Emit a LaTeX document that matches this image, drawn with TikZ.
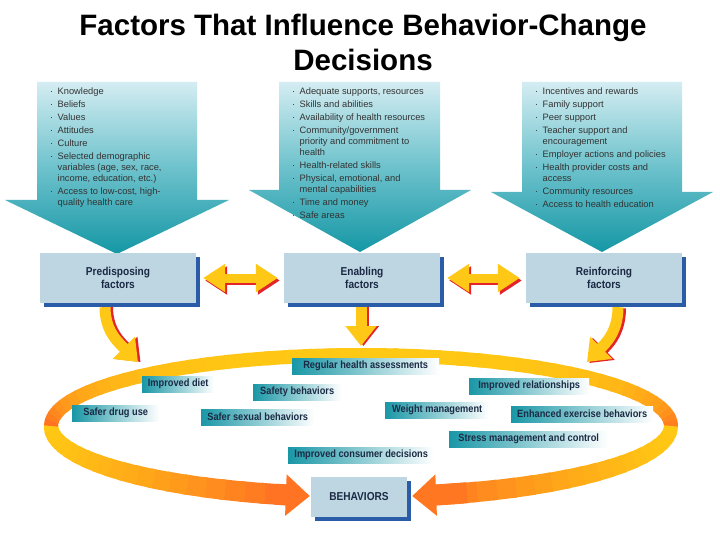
\documentclass[tikz,border=0pt]{standalone}
\usepackage{fontspec}
\setmainfont{Liberation Sans}
\newfontfamily\narrowfont[FakeStretch=0.88]{Liberation Sans}
\usetikzlibrary{arrows.meta,positioning,shadows}

\definecolor{teallight}{HTML}{D4EDF2}
\definecolor{tealmid}{HTML}{6DC2CC}
\definecolor{tealdark}{HTML}{1597A5}
\definecolor{boxfill}{HTML}{BED5E2}
\definecolor{boxshadow}{HTML}{2B5CA8}
\definecolor{navytext}{HTML}{1B2A44}
\definecolor{arrowyellow}{HTML}{FFC816}
\definecolor{arrowred}{HTML}{E3242B}
\definecolor{ringyellow}{HTML}{FFC814}
\definecolor{ringorange}{HTML}{FF6424}
\definecolor{tagteal}{HTML}{1A97A6}

\newcommand{\bul}{\makebox[7.5pt][l]{·}}
\newcommand{\ind}{\hspace*{7.5pt}}

\tikzset{
  inflow/.style={top color=teallight,bottom color=tealdark,middle color=tealmid},
  factor/.style={fill=boxfill,minimum width=156pt,minimum height=50pt,align=center,
    font=\narrowfont\bfseries\fontsize{11.5}{13.5}\selectfont,text=navytext,
    drop shadow={shadow xshift=4pt,shadow yshift=-4pt,fill=boxshadow,opacity=1}},
  factlist/.style={anchor=north west,align=left,inner sep=0pt,font=\fontsize{9.3}{11}\selectfont,text=black!80},
  tag/.style={anchor=west,left color=tagteal,right color=white,minimum height=16pt,inner sep=0pt,
    font=\narrowfont\bfseries\fontsize{10.5}{12}\selectfont,text=navytext},
  twoway/.style={line width=9pt,{Triangle[width=27pt,length=22pt]}-{Triangle[width=27pt,length=22pt]}},
  downflow/.style={line width=11pt,-{Triangle[width=30pt,length=20pt]}},
}

\begin{document}
\begin{tikzpicture}[x=1pt,y=-1pt]
\fill[white] (0,0) rectangle (720,540);
\useasboundingbox (0,0) rectangle (720,540);

\node[font=\bfseries\fontsize{29.5}{35}\selectfont,align=center] (title) at (363,42) {Factors That Influence Behavior-Change\\Decisions};

% factor inputs
\shade[inflow] (37,82) -- (197,82) -- (197,200) -- (229,200) -- (117,254) -- (5,200) -- (37,200) -- cycle;
\shade[inflow] (279,82) -- (440,82) -- (440,190) -- (471,190) -- (360,252) -- (249,190) -- (279,190) -- cycle;
\shade[inflow] (522,82) -- (682,82) -- (682,192) -- (713,192) -- (602,252) -- (491,192) -- (522,192) -- cycle;

\node[factlist] (prelist) at (50,88) {\bul Knowledge\\[2pt]\bul Beliefs\\[2pt]\bul Values\\[2pt]\bul Attitudes\\[2pt]\bul Culture\\[2pt]\bul Selected demographic\\\ind variables (age, sex, race,\\\ind income, education, etc.)\\[2pt]\bul Access to low-cost, high-\\\ind quality health care};
\node[factlist] (enalist) at (292,88) {\bul Adequate supports, resources\\[2pt]\bul Skills and abilities\\[2pt]\bul Availability of health resources\\[2pt]\bul Community/government\\\ind priority and commitment to\\\ind health\\[2pt]\bul Health-related skills\\[2pt]\bul Physical, emotional, and\\\ind mental capabilities\\[2pt]\bul Time and money\\[2pt]\bul Safe areas};
\node[factlist] (reilist) at (535,88) {\bul Incentives and rewards\\[2pt]\bul Family support\\[2pt]\bul Peer support\\[2pt]\bul Teacher support and\\\ind encouragement\\[2pt]\bul Employer actions and policies\\[2pt]\bul Health provider costs and\\\ind access\\[2pt]\bul Community resources\\[2pt]\bul Access to health education};

% factor boxes
\node[factor] (pre) at (118,278) {Predisposing\\factors};
\node[factor] (ena) at (362,278) {Enabling\\factors};
\node[factor] (rei) at (604,278) {Reinforcing\\factors};

\draw[twoway,arrowred,transform canvas={xshift=2pt,yshift=-2.5pt}] ([xshift=7pt]pre.east) -- ([xshift=-6pt]ena.west);
\draw[twoway,arrowyellow] ([xshift=7pt]pre.east) -- ([xshift=-6pt]ena.west);
\draw[twoway,arrowred,transform canvas={xshift=2pt,yshift=-2.5pt}] ([xshift=7pt]ena.east) -- ([xshift=-6pt]rei.west);
\draw[twoway,arrowyellow] ([xshift=7pt]ena.east) -- ([xshift=-6pt]rei.west);

% behavior ring
\coordinate (ring) at (361,426);
\foreach \a in {104,108,...,432}{
  \pgfmathsetmacro\mixpct{\a<180 ? 85*((180-\a)/76)^2 : (\a<270 ? 85*((270-\a)/90)^3 : (\a<360 ? 85*((\a-270)/90)^3 : 85*((\a-360)/76)^2))}
  \pgfmathsetmacro\ringw{14+7*max(sin(\a),0)}
  \draw[line width=\ringw pt,ringorange!\mixpct!ringyellow] ([shift={(\a:310 and 71)}]ring) arc[start angle=\a,end angle=\a+5,x radius=310,y radius=71];
}
\draw[line width=21pt,ringorange!85!ringyellow,-{Triangle[width=40pt,length=24pt]}] ([shift={(106:310 and 71)}]ring) arc[start angle=106,end angle=99.5,x radius=310,y radius=71];
\draw[line width=21pt,ringorange!80!ringyellow,-{Triangle[width=40pt,length=24pt]}] ([shift={(430:310 and 71)}]ring) arc[start angle=430,end angle=440.5,x radius=310,y radius=71];

% into the ring
\coordinate (preTip) at (138,362);
\coordinate (enaTip) at (361,346);
\coordinate (reiTip) at (587,362);
\draw[downflow,arrowred,transform canvas={xshift=2.5pt}] ([xshift=-13pt,yshift=-4pt]pre.south) .. controls +(0,25) and +(-18,-18) .. (preTip);
\draw[downflow,arrowyellow] ([xshift=-13pt,yshift=-4pt]pre.south) .. controls +(0,25) and +(-18,-18) .. (preTip);
\draw[downflow,arrowred,transform canvas={xshift=2.5pt}] ([xshift=-1pt,yshift=-4pt]ena.south) -- (enaTip);
\draw[downflow,arrowyellow] ([xshift=-1pt,yshift=-4pt]ena.south) -- (enaTip);
\draw[downflow,arrowred,transform canvas={xshift=2.5pt,yshift=-1pt}] ([xshift=14pt,yshift=-4pt]rei.south) .. controls +(0,25) and +(18,-18) .. (reiTip);
\draw[downflow,arrowyellow] ([xshift=14pt,yshift=-4pt]rei.south) .. controls +(0,25) and +(18,-18) .. (reiTip);

% behaviors
\node[tag,minimum width=147pt] (regular) at (292,366) {Regular health assessments};
\node[tag,minimum width=72pt] (diet) at (142,384) {Improved diet};
\node[tag,minimum width=88pt] (safety) at (253,392) {Safety behaviors};
\node[tag,minimum width=87pt] (drug) at (72,413) {Safer drug use};
\node[tag,minimum width=113pt] (sexual) at (201,417) {Safer sexual behaviors};
\node[tag,minimum width=120pt] (relation) at (469,386) {Improved relationships};
\node[tag,minimum width=104pt] (weight) at (385,410) {Weight management};
\node[tag,minimum width=142pt] (exercise) at (511,414) {Enhanced exercise behaviors};
\node[tag,minimum width=159pt] (stress) at (449,439) {Stress management and control};
\node[tag,minimum width=146pt] (consumer) at (288,455) {Improved consumer decisions};

\node[factor,minimum width=96pt,minimum height=40pt] (beh) at (359,497) {BEHAVIORS};
\end{tikzpicture}
\end{document}
